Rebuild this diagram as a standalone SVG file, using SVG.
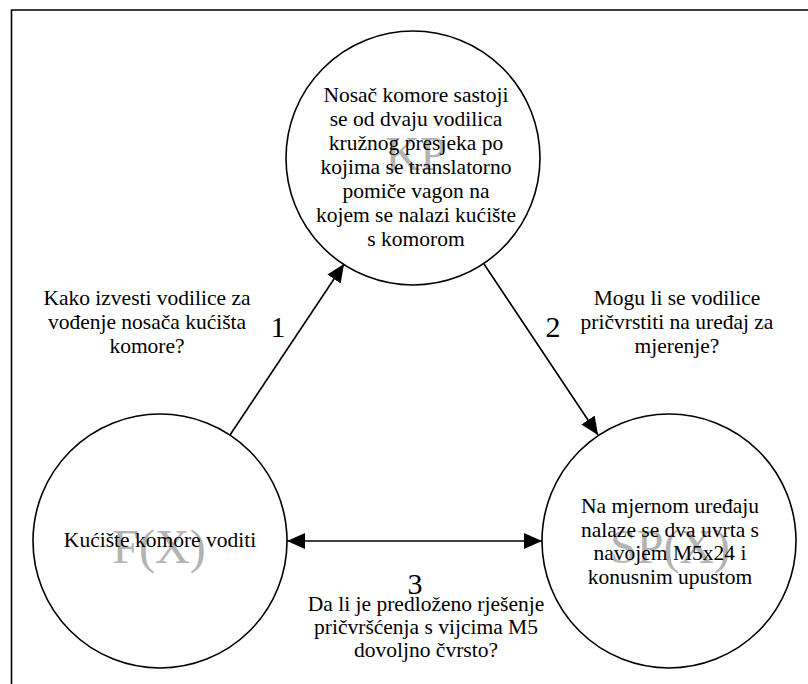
<svg xmlns="http://www.w3.org/2000/svg" width="808" height="684" viewBox="0 0 808 684">
<style>
.frame{stroke:#000;stroke-width:1.6;fill:none}
.node{fill:#fff;stroke:#000;stroke-width:1.6}
.lbl{font-family:'Liberation Serif',serif;font-size:21.5px;fill:#000;text-anchor:middle}
.wm{font-family:'Liberation Serif',serif;font-size:48px;fill:#b3b3b3;text-anchor:middle}
.num{font-family:'Liberation Serif',serif;font-size:30px;fill:#000;text-anchor:middle}
.edge{stroke:#000;stroke-width:1.6;fill:none}
</style>
<defs>
<marker id="ah" markerUnits="userSpaceOnUse" markerWidth="19" markerHeight="17" refX="18" refY="8" orient="auto-start-reverse" viewBox="0 0 19 17">
<path d="M0,0 L18,8 L0,16 z" fill="#000"/>
</marker>
</defs>
<rect x="0" y="0" width="808" height="684" fill="#fff"/>
<g id="frame">
<path class="frame" d="M11.5,684 L11.5,10 L808,10"/>
</g>
<g id="node-kp">
<circle class="node" cx="413" cy="158" r="127"/>
<text class="wm" x="416" y="170">KP</text>
<text class="lbl" x="416" y="102">Nosač komore sastoji</text>
<text class="lbl" x="416" y="126">se od dvaju vodilica</text>
<text class="lbl" x="416" y="150">kružnog presjeka po</text>
<text class="lbl" x="416" y="174">kojima se translatorno</text>
<text class="lbl" x="416" y="198">pomiče vagon na</text>
<text class="lbl" x="416" y="222">kojem se nalazi kućište</text>
<text class="lbl" x="416" y="246">s komorom</text>
</g>
<g id="node-fx">
<circle class="node" cx="160" cy="541" r="127"/>
<text class="wm" x="159" y="563">F(X)</text>
<text class="lbl" x="160" y="547">Kućište komore voditi</text>
</g>
<g id="node-spx">
<circle class="node" cx="669" cy="541" r="127"/>
<text class="wm" x="670" y="563">SP(X)</text>
<text class="lbl" x="670" y="513">Na mjernom uređaju</text>
<text class="lbl" x="670" y="537">nalaze se dva uvrta s</text>
<text class="lbl" x="670" y="560">navojem M5x24 i</text>
<text class="lbl" x="670" y="584">konusnim upustom</text>
</g>
<g id="connectors">
<line class="edge" x1="230" y1="435" x2="344" y2="264" marker-end="url(#ah)"/>
<line class="edge" x1="484" y1="264" x2="598" y2="435" marker-end="url(#ah)"/>
<line class="edge" x1="287" y1="541" x2="542" y2="541" marker-start="url(#ah)" marker-end="url(#ah)"/>
</g>
<g id="labels">
<text class="num" x="278" y="337">1</text>
<text class="lbl" x="147" y="305">Kako izvesti vodilice za</text>
<text class="lbl" x="147" y="329">vođenje nosača kućišta</text>
<text class="lbl" x="147" y="353">komore?</text>
<text class="num" x="553" y="337">2</text>
<text class="lbl" x="677" y="305">Mogu li se vodilice</text>
<text class="lbl" x="677" y="329">pričvrstiti na uređaj za</text>
<text class="lbl" x="677" y="353">mjerenje?</text>
<text class="num" x="415" y="594">3</text>
<text class="lbl" x="426" y="611">Da li je predloženo rješenje</text>
<text class="lbl" x="426" y="634">pričvršćenja s vijcima M5</text>
<text class="lbl" x="426" y="657">dovoljno čvrsto?</text>
</g>
</svg>
